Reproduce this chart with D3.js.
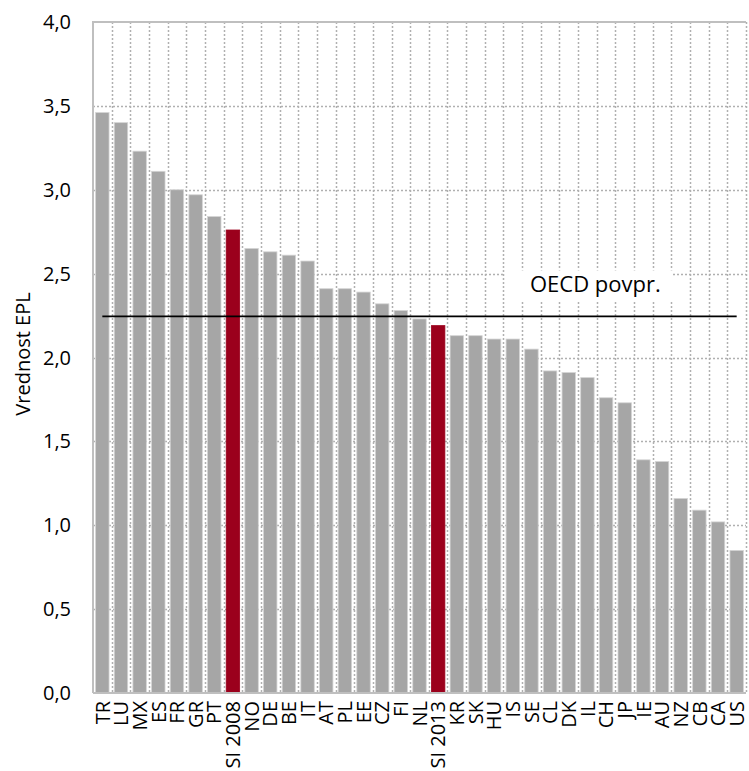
<!DOCTYPE html>
<html>
<head>
<meta charset="utf-8">
<script src="https://cdn.jsdelivr.net/npm/d3@7"></script>
<style>
  body { margin: 0; background: #fff; }
  text { font-family: "Open Sans", sans-serif; fill: #000; }
</style>
</head>
<body>
<svg id="chart" width="749" height="771"></svg>
<script>
// countries, sorted by EPL value
const countries = ['TR', 'LU', 'MX', 'ES', 'FR', 'GR', 'PT', 'SI 2008', 'NO', 'DE', 'BE', 'IT', 'AT', 'PL', 'EE', 'CZ', 'FI', 'NL',
  'SI 2013', 'KR', 'SK', 'HU', 'IS', 'SE', 'CL', 'DK', 'IL', 'CH', 'JP', 'IE', 'AU', 'NZ', 'CB', 'CA', 'US']
const eplValues = [3.46, 3.40, 3.23, 3.11, 3.00, 2.97, 2.84, 2.76, 2.65, 2.63, 2.61, 2.575, 2.41, 2.41, 2.39, 2.32, 2.28, 2.23,
  2.19, 2.13, 2.13, 2.11, 2.11, 2.05, 1.92, 1.91, 1.88, 1.76, 1.73, 1.39, 1.38, 1.16, 1.09, 1.02, 0.85]
const highlighted = ['SI 2008', 'SI 2013']
const oecdAvg = 2.245
const oecdLabel = 'OECD povpr.'
const yTicks = [0, 0.5, 1, 1.5, 2, 2.5, 3, 3.5, 4]
const yTitle = 'Vrednost EPL'

const margin = { top: 22, right: 3, bottom: 78, left: 93 }
const width = 749 - margin.left - margin.right
const height = 771 - margin.top - margin.bottom

const svg = d3.select('#chart')
const g = svg.append('g').attr('transform', 'translate(' + margin.left + ',' + margin.top + ')')

const x = d3.scaleBand().domain(countries).range([0, width]).paddingInner(0.28).paddingOuter(0.14)
const y = d3.scaleLinear().domain([0, 4]).range([height, 0])

const bounds = d3.range(1, countries.length + 1).map(i => Math.round(i * width / countries.length) + 0.5)

// dotted grid
g.selectAll('.hgrid')
  .data(yTicks.filter(t => t > 0 && t < 4))
  .enter()
  .append('line')
  .attr('x1', 0).attr('x2', width)
  .attr('y1', d => Math.round(y(d)) + 0.5).attr('y2', d => Math.round(y(d)) + 0.5)
  .attr('stroke', '#b0b0b0').attr('stroke-width', 1.5)
  .attr('stroke-dasharray', '2,2')

g.selectAll('.vgrid')
  .data(bounds)
  .enter()
  .append('line')
  .attr('x1', d => d).attr('x2', d => d)
  .attr('y1', 0).attr('y2', height)
  .attr('stroke', '#b0b0b0').attr('stroke-width', 1.5)
  .attr('stroke-dasharray', '2,2')

// bars
g.selectAll('.bar')
  .data(countries)
  .enter()
  .append('rect')
  .attr('x', d => x(d))
  .attr('y', (d, i) => y(eplValues[i]))
  .attr('width', x.bandwidth())
  .attr('height', (d, i) => height - y(eplValues[i]))
  .attr('fill', d => highlighted.includes(d) ? '#9b001c' : '#a6a6a6')
  .attr('stroke', d => highlighted.includes(d) ? '#9b001c' : '#d4d4d4')
  .attr('stroke-width', 0.8)

// frame: left + top solid, bottom axis
g.append('path')
  .attr('d', 'M0,' + height + 'V0H' + width)
  .attr('fill', 'none').attr('stroke', '#bfbfbf').attr('stroke-width', 2)
g.append('line')
  .attr('x1', 0).attr('x2', width)
  .attr('y1', height).attr('y2', height)
  .attr('stroke', '#bfbfbf').attr('stroke-width', 2)

// OECD average line with label
const lineX0 = x(countries[0]) + x.bandwidth() / 2
const lineX1 = x(countries[countries.length - 1]) + x.bandwidth() / 2
g.append('line')
  .attr('x1', lineX0).attr('x2', lineX1)
  .attr('y1', y(oecdAvg)).attr('y2', y(oecdAvg))
  .attr('stroke', '#000').attr('stroke-width', 1.6)

const labelX = 437, labelY = y(oecdAvg) - 24
g.append('rect')
  .attr('x', labelX - 25).attr('y', labelY - 22)
  .attr('width', 168).attr('height', 30)
  .attr('fill', '#fff')
g.append('text')
  .attr('x', labelX).attr('y', labelY)
  .style('font-size', '22px')
  .text(oecdLabel)

// y axis labels
g.selectAll('.ytick')
  .data(yTicks)
  .enter()
  .append('text')
  .attr('x', -22)
  .attr('y', d => y(d))
  .attr('dy', '0.35em')
  .attr('text-anchor', 'end')
  .style('font-size', '20px')
  .text(d => d3.format('.1f')(d).replace('.', ','))

svg.append('text')
  .attr('transform', 'translate(30,354) rotate(-90)')
  .attr('text-anchor', 'middle')
  .style('font-size', '20px')
  .text(yTitle)

// x labels, rotated
g.selectAll('.xlabel')
  .data(countries)
  .enter()
  .append('text')
  .attr('transform', d => 'translate(' + (x(d) + x.bandwidth() / 2) + ',' + (height + 8) + ') rotate(-90)')
  .attr('dy', '0.36em')
  .attr('text-anchor', 'end')
  .style('font-size', '20px')
  .text(d => d)
</script>
</body>
</html>
